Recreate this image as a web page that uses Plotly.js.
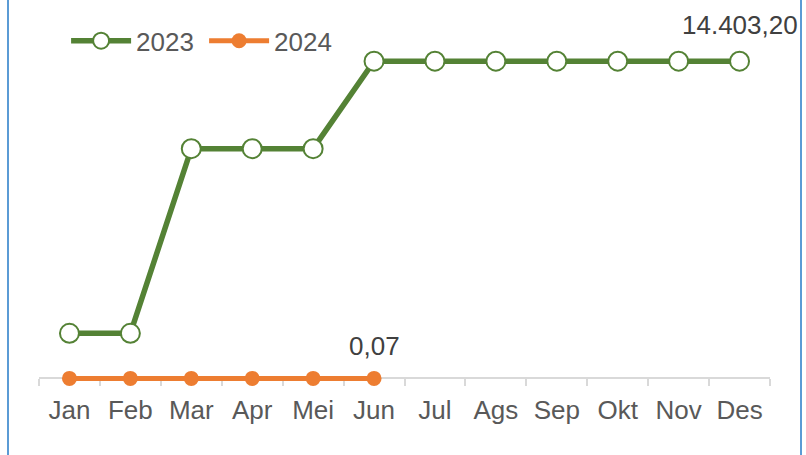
<!DOCTYPE html>
<html>
<head>
<meta charset="utf-8">
<script src="https://cdn.plot.ly/plotly-3.0.1.min.js"></script>
<style>
html,body{margin:0;padding:0;background:#fff;}
#wrap{position:relative;width:806px;height:455px;overflow:hidden;}
#chart{position:absolute;left:0;top:0;width:806px;height:455px;}
.edge{position:absolute;top:0;width:2px;height:455px;background:#5B9BD5;}
</style>
</head>
<body>
<div id="wrap">
<div id="chart"></div>
<div class="edge" style="left:7px"></div>
<div class="edge" style="left:800px"></div>
</div>
<script>
const months = ["Jan","Feb","Mar","Apr","Mei","Jun","Jul","Ags","Sep","Okt","Nov","Des"];
const values2023 = [2045, 2045, 10430, 10430, 10430, 14403.20, 14403.20, 14403.20, 14403.20, 14403.20, 14403.20, 14403.20];
const months2024 = ["Jan","Feb","Mar","Apr","Mei","Jun"];
const values2024 = [0.07, 0.07, 0.07, 0.07, 0.07, 0.07];

function fmtID(v){
  const parts = v.toFixed(2).split(".");
  parts[0] = parts[0].replace(/\B(?=(\d{3})+(?!\d))/g, ".");
  return parts[0] + "," + parts[1];
}

const font = "Liberation Sans, Arial, sans-serif";

const traces = [
  {
    name: "2023", x: months, y: values2023, type: "scatter", mode: "lines+markers",
    line: {color: "#548235", width: 5.5},
    marker: {symbol: "circle", size: 19, color: "#ffffff", line: {color: "#548235", width: 2}},
    cliponaxis: false
  },
  {
    name: "2024", x: months2024, y: values2024, type: "scatter", mode: "lines+markers",
    line: {color: "#ED7D31", width: 5},
    marker: {symbol: "circle", size: 15, color: "#ED7D31"},
    cliponaxis: false
  }
];

const last23 = values2023.length - 1;
const last24 = values2024.length - 1;
const annotations = [
  {x: months[last23], y: values2023[last23], text: fmtID(values2023[last23]), showarrow: false, yshift: 36,
   font: {family: font, size: 26, color: "#404040"}},
  {x: months2024[last24], y: values2024[last24], text: fmtID(values2024[last24]), showarrow: false, yshift: 32,
   font: {family: font, size: 26, color: "#404040"}}
];

// y scale: 0 at px 378, top (16000) at px 26; extra room below zero so the 2024 line is not clipped
const yMin = -300, yMax = 16000;
const pxPerUnit = (378 - 26) / yMax;
const bottomPx = 378 + (-yMin) * pxPerUnit;
const plotH = bottomPx - 26;
const zeroPos = (bottomPx - 378) / plotH;

const layout = {
  width: 806, height: 455,
  margin: {l: 38.5, r: 35.5, t: 26, b: 455 - bottomPx, autoexpand: false},
  paper_bgcolor: "#ffffff", plot_bgcolor: "#ffffff",
  showlegend: true,
  legend: {
    orientation: "h", xref: "container", yref: "container",
    x: 0.082, y: 0.962, xanchor: "left", yanchor: "top",
    font: {family: font, size: 26, color: "#595959"},
    itemwidth: 60, entrywidth: 63, entrywidthmode: "pixels",
    bgcolor: "rgba(0,0,0,0)"
  },
  xaxis: {
    type: "category", categoryarray: months, categoryorder: "array",
    range: [-0.5, 11.5], showgrid: false, zeroline: false,
    anchor: "free", position: zeroPos, layer: "below traces",
    showline: true, linecolor: "#D9D9D9", linewidth: 2,
    ticks: "outside", tickson: "boundaries", ticklen: 7, tickcolor: "#D9D9D9", tickwidth: 2,
    ticklabelstandoff: 8,
    tickfont: {family: font, size: 26, color: "#595959"}, fixedrange: true
  },
  yaxis: {
    range: [yMin, yMax], visible: false, showgrid: false, zeroline: false, fixedrange: true
  },
  annotations: annotations
};

Plotly.newPlot("chart", traces, layout, {staticPlot: true, displayModeBar: false});
</script>
</body>
</html>
